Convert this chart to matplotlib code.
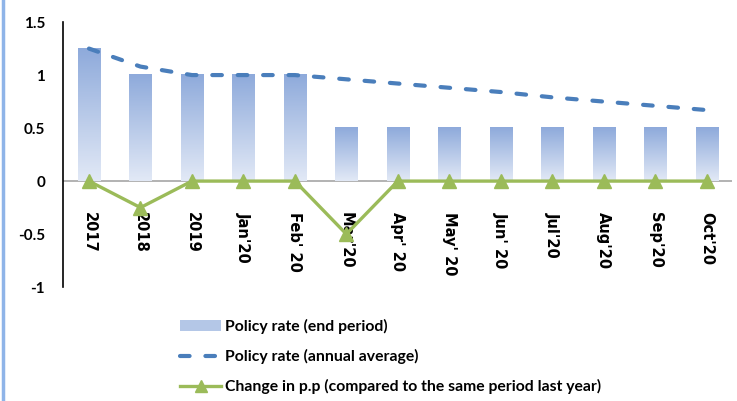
import matplotlib
matplotlib.use("Agg")
import matplotlib.pyplot as plt
import numpy as np
from matplotlib.colors import LinearSegmentedColormap
from matplotlib.patches import Patch
from matplotlib.lines import Line2D

categories = ["2017", "2018", "2019", "Jan'20", "Feb' 20", "Mar'20", "Apr' 20",
              "May' 20", "Jun' 20", "Jul'20", "Aug'20", "Sep'20", "Oct'20"]
policy_end = [1.25, 1.0, 1.0, 1.0, 1.0, 0.5, 0.5, 0.5, 0.5, 0.5, 0.5, 0.5, 0.5]
policy_avg = [1.25, 1.08, 1.0, 1.0, 1.0, 0.96, 0.92, 0.88, 0.84, 0.79, 0.75, 0.71, 0.67]
change_pp = [0, -0.25, 0, 0, 0, -0.5, 0, 0, 0, 0, 0, 0, 0]

plt.rcParams['font.family'] = ['Lato', 'DejaVu Sans']

fig = plt.figure(figsize=(7.37, 4.01), dpi=100)
ax = fig.add_axes([0.0858, 0.284, 0.908, 0.661])

x = np.arange(len(categories))
width = 0.43
bars = ax.bar(x, policy_end, width=width, color='none', zorder=2)
cmap = LinearSegmentedColormap.from_list('g', ['#e2e9f6', '#8eaadb'])
grad = np.linspace(0, 1, 256).reshape(-1, 1)
for b in bars:
    x0, y0 = b.get_x(), b.get_y()
    w, h = b.get_width(), b.get_height()
    ax.imshow(grad, extent=[x0, x0 + w, y0, y0 + h], origin='lower',
              aspect='auto', cmap=cmap, zorder=2)

ax.axhline(0, color='#a6a6a6', lw=1.2, zorder=1)
ax.plot(x, policy_avg, color='#4a7ebb', lw=3.0, dashes=(2.3, 3.8),
        dash_capstyle='round', zorder=3)
ax.plot(x, change_pp, color='#9bbb59', lw=2.4, marker='^', markersize=10,
        markeredgecolor='#9bbb59', zorder=4)

ax.set_xlim(-0.5, len(categories) - 0.5)
ax.set_ylim(-1, 1.5)
ax.set_yticks([-1, -0.5, 0, 0.5, 1, 1.5])
ax.set_yticklabels(['-1', '-0.5', '0', '0.5', '1', '1.5'], fontsize=11,
                   fontweight='bold')
ax.tick_params(axis='y', length=0, pad=13)
ax.set_xticks([])
for i, c in enumerate(categories):
    ax.text(i, -0.29, c, rotation=270, ha='center', va='top', fontsize=10.5,
            fontweight='bold', family='DejaVu Sans')

for s in ['top', 'right', 'bottom']:
    ax.spines[s].set_visible(False)
ax.spines['left'].set_color('black')
ax.spines['left'].set_linewidth(1.2)

fig.add_artist(Line2D([0.004, 0.004], [0, 1], color='#8fb4e8', lw=2.5,
                      transform=fig.transFigure))

handles = [Patch(facecolor='#b4c7e7', edgecolor='none'),
           Line2D([], [], color='#4a7ebb', lw=3, dashes=(2.3, 3.8),
                  dash_capstyle='round'),
           Line2D([], [], color='#9bbb59', lw=2.4, marker='^', markersize=9)]
labels = ['Policy rate (end period)', 'Policy rate (annual average)',
          'Change in p.p (compared to the same period last year)']
fig.legend(handles, labels, loc='upper left', bbox_to_anchor=(0.236, 0.22),
           frameon=False, prop={'size': 11.3, 'weight': 'bold'},
           handlelength=2.6, labelspacing=0.95, handletextpad=0.25,
           borderaxespad=0)

fig.savefig('out.png', dpi=100)
